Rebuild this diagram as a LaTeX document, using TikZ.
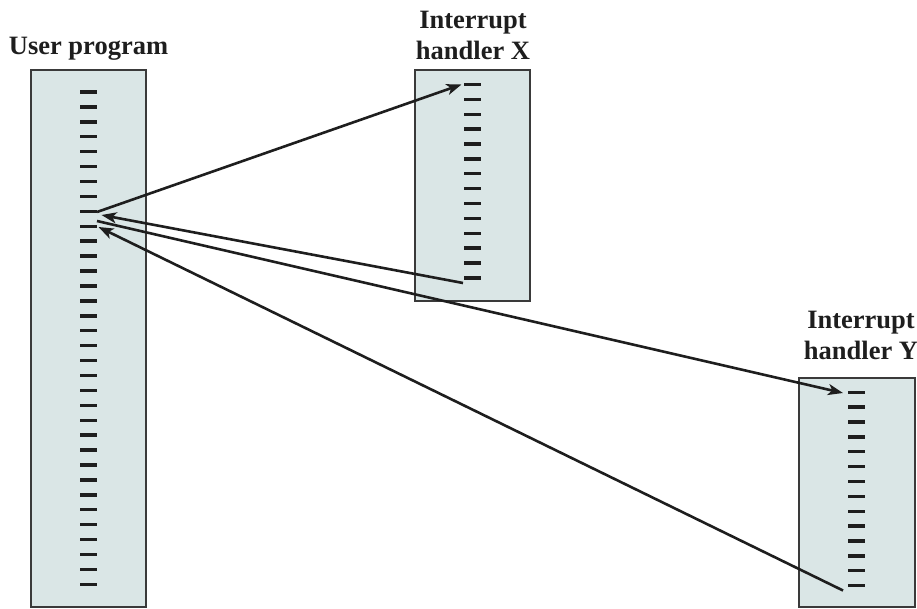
\documentclass[tikz,border=0pt]{standalone}
\usepackage{fontspec}
\setmainfont{Liberation Serif}
\usetikzlibrary{arrows.meta}
\definecolor{boxfill}{HTML}{DAE6E6}
\definecolor{boxline}{HTML}{3A3A3A}
\definecolor{ink}{HTML}{1E1E1E}
\tikzset{
  prog/.style={draw=boxline, fill=boxfill, line width=1.6pt, rectangle, inner sep=0pt},
  tick/.style={draw=ink, line width=3.4pt},
  flow/.style={draw=ink, line width=2.6pt, -{Stealth[length=15pt,width=11pt,inset=4pt]}},
  lbl/.style={font=\bfseries\fontsize{26.5}{31}\selectfont, text=ink, inner sep=0pt, align=center}
}
\begin{document}
\begin{tikzpicture}[x=1pt,y=-1pt]
\useasboundingbox (0,0) rectangle (917,609);
% boxes
\node[prog, minimum width=115pt, minimum height=537pt] (user) at (88.5,338.5) {};
\node[prog, minimum width=115pt, minimum height=231pt] (hx) at (472.5,185.5) {};
\node[prog, minimum width=116pt, minimum height=229pt] (hy) at (857,492.5) {};
% labels
\node[lbl, anchor=base] (lu) at (88.5,55) {User program};
\node[lbl, anchor=south] (lx) at (473,60) {Interrupt\\handler X};
\node[lbl, anchor=south] (ly) at (861,360) {Interrupt\\handler Y};
% instruction ticks
\foreach \i in {0,...,33} \draw[tick] ({80},{92+\i*14.92}) -- ({97},{92+\i*14.92});
\foreach \i in {0,...,13} \draw[tick] ({464},{84.5+\i*14.88}) -- ({481},{84.5+\i*14.88});
\foreach \i in {0,...,13} \draw[tick] ({848},{392.3+\i*14.87}) -- ({865},{392.3+\i*14.87});
% connector end points
\coordinate (u1) at (97,212);
\coordinate (x1) at (461.5,84.5);
\coordinate (x2) at (463,283);
\coordinate (u2) at (101.5,215);
\coordinate (u3) at (97,221);
\coordinate (y1) at (843,393);
\coordinate (y2) at (843,590.5);
\coordinate (u4) at (98.5,227);
% connectors
\draw[flow] (u1) -- (x1);
\draw[flow] (x2) -- (u2);
\draw[flow] (u3) -- (y1);
\draw[flow] (y2) -- (u4);
\end{tikzpicture}
\end{document}
